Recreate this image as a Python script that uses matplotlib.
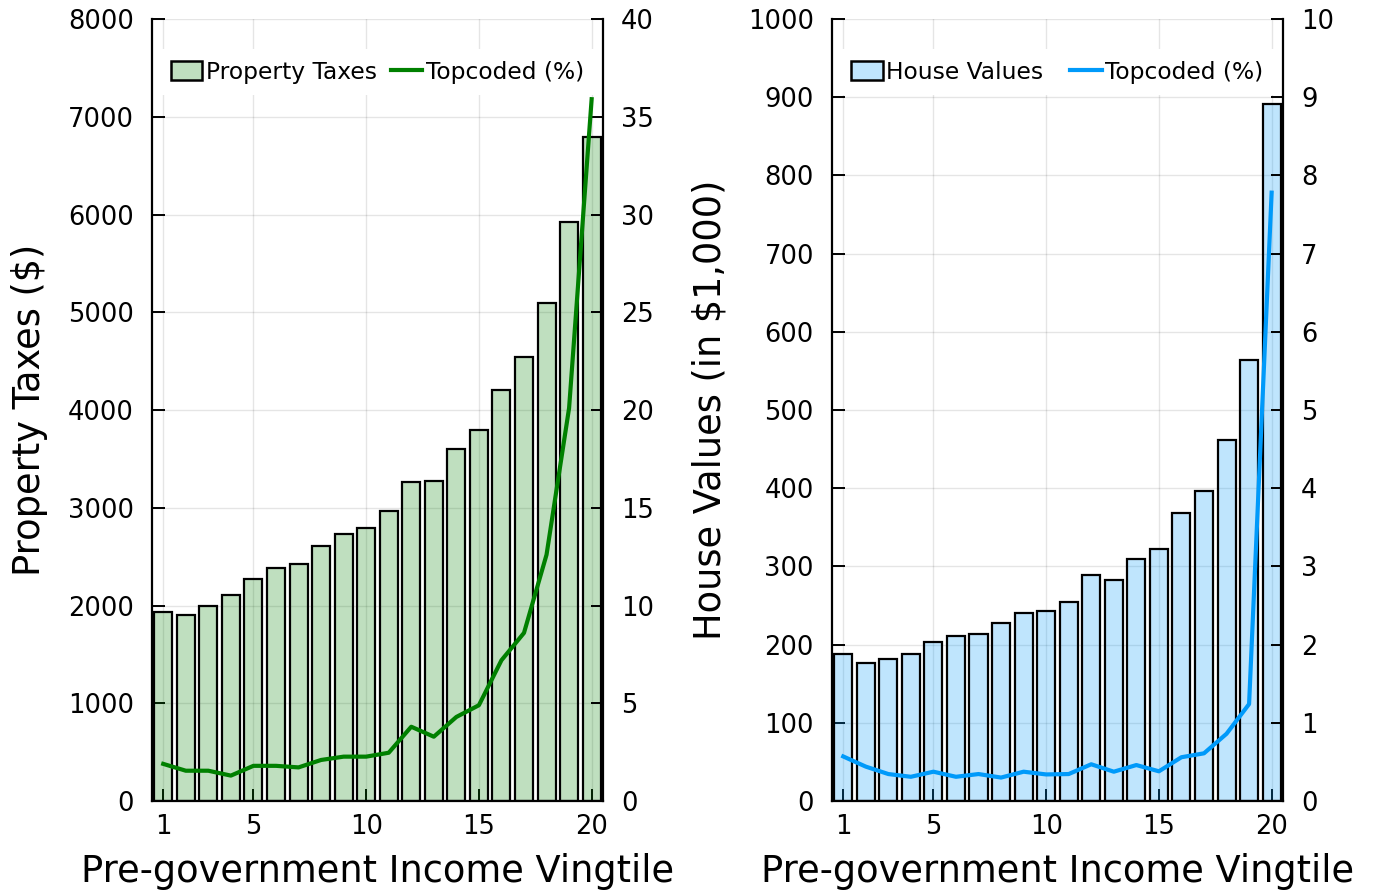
import matplotlib
matplotlib.use("Agg")
import matplotlib.pyplot as plt
from matplotlib.colors import to_rgba
from matplotlib.patches import Patch
from matplotlib.lines import Line2D

vingtiles = list(range(1, 21))

property_taxes = [1930, 1905, 2000, 2105, 2270, 2380, 2425, 2610, 2735, 2790,
                  2965, 3260, 3270, 3605, 3800, 4205, 4545, 5100, 5925, 6790]
tax_topcoded = [1.9, 1.55, 1.55, 1.3, 1.8, 1.8, 1.72, 2.1, 2.27, 2.27,
                2.47, 3.8, 3.29, 4.3, 4.9, 7.2, 8.6, 12.6, 20.1, 35.9]

house_values = [188, 176, 182, 188, 203, 211, 214, 228, 240, 243,
                254, 289, 283, 310, 322, 368, 396, 462, 564, 891]
house_topcoded = [0.57, 0.44, 0.345, 0.31, 0.375, 0.31, 0.345, 0.30, 0.375, 0.34,
                  0.345, 0.47, 0.375, 0.46, 0.38, 0.56, 0.61, 0.86, 1.24, 7.78]

GREEN = "#008000"
BLUE = "#009afa"

plt.rcParams["font.family"] = "DejaVu Sans"

fig = plt.figure(figsize=(13.74, 8.94), dpi=100)
ax_left = fig.add_axes([0.1106, 0.104, 0.3282, 0.8747])
ax_right = fig.add_axes([0.6055, 0.104, 0.3282, 0.8747])


def style_axis(ax):
    ax.spines["top"].set_visible(False)
    for side in ("left", "right", "bottom"):
        ax.spines[side].set_linewidth(1.6)
    ax.tick_params(direction="in", length=9, width=1.4, labelsize=18.5,
                   pad=13, top=False)
    ax.tick_params(axis="x", pad=9)


def panel(ax, values, topcoded, color, ymax, ystep, y2max, y2step,
          bar_label, ylabel, colgap):
    ax.bar(vingtiles, values, width=0.8, color=to_rgba(color, 0.25), zorder=2)
    ax.bar(vingtiles, values, width=0.8, facecolor="none", edgecolor="black",
           linewidth=1.6, zorder=3)
    ax.set_xlim(0.5, 20.5)
    ax.set_ylim(0, ymax)
    ax.set_xticks([1, 5, 10, 15, 20])
    ax.set_yticks(range(0, ymax + 1, ystep))
    ax.grid(True, color="black", alpha=0.1, linewidth=1, zorder=0)
    ax.set_axisbelow(True)
    ax.set_xlabel("Pre-government Income Vingtile", fontsize=26.5, labelpad=10)
    ax.set_ylabel(ylabel, fontsize=26.5, labelpad=14)
    style_axis(ax)
    ax.spines["right"].set_visible(False)

    tw = ax.twinx()
    tw.plot(vingtiles, topcoded, color=color, linewidth=3, zorder=4)
    tw.set_ylim(0, y2max)
    tw.set_yticks(range(0, y2max + 1, y2step))
    style_axis(tw)
    tw.spines["left"].set_visible(False)
    tw.spines["bottom"].set_visible(False)

    handles = [Patch(facecolor=to_rgba(color, 0.25), edgecolor="black", linewidth=1.8),
               Line2D([0], [0], color=color, linewidth=3)]
    leg = tw.legend(handles, [bar_label, "Topcoded (%)"], ncol=2, loc="center",
                    bbox_to_anchor=(0.5, 0.932), fontsize=16.8, frameon=True,
                    fancybox=False, framealpha=1, edgecolor="white",
                    handlelength=1.35, handleheight=0.9, handletextpad=0.15,
                    columnspacing=colgap, borderpad=0.5)
    leg.get_frame().set_linewidth(0)


panel(ax_left, property_taxes, tax_topcoded, GREEN, 8000, 1000, 40, 5,
      "Property Taxes", "Property Taxes ($)", 0.6)
panel(ax_right, house_values, house_topcoded, BLUE, 1000, 100, 10, 1,
      "House Values", "House Values (in $1,000)", 1.15)

fig.savefig("out.png", dpi=100)
